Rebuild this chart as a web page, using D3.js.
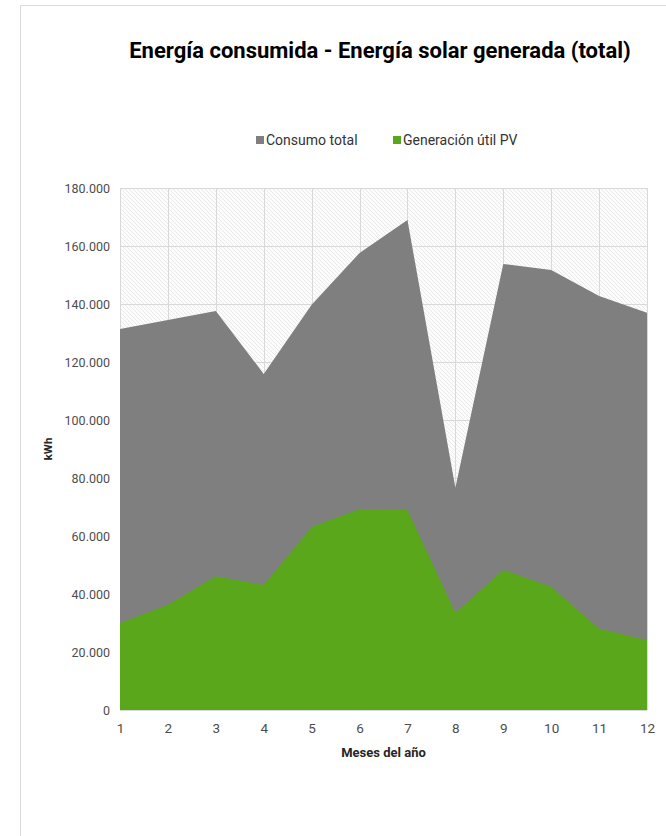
<!DOCTYPE html>
<html>
<head>
<meta charset="utf-8">
<script src="https://cdn.jsdelivr.net/npm/d3@7"></script>
<style>
  html, body { margin: 0; padding: 0; background: #fff; }
  svg { display: block; font-family: Roboto, "Noto Sans", sans-serif; }
</style>
</head>
<body>
<svg id="chart" width="666" height="836"></svg>
<script>
// Monthly energy figures (kWh)
const months = [1, 2, 3, 4, 5, 6, 7, 8, 9, 10, 11, 12];
const consumoTotal = [131400, 134500, 137600, 115900, 139700, 157600, 169000, 76600, 153800, 151700, 142800, 137000];
const generacionPV = [30000, 36300, 46100, 43100, 63100, 69300, 69000, 33500, 48300, 42500, 28000, 24100];
const yTicks = [0, 20000, 40000, 60000, 80000, 100000, 120000, 140000, 160000, 180000];
const seriesNames = ["Consumo total", "Generación útil PV"];
const seriesColors = ["#7f7f7f", "#5aa71c"];

const svg = d3.select("#chart");
const W = 666, H = 836;

// outer frame
svg.append("path")
  .attr("d", `M20.5,${H} V5.5 H${W}`)
  .attr("fill", "none")
  .attr("stroke", "#d9d9d9")
  .attr("stroke-width", 1);

const margin = { left: 120, right: 19, top: 188, bottom: 126 };
const plotW = W - margin.left - margin.right;
const plotH = H - margin.top - margin.bottom;

const x = d3.scaleLinear().domain([1, 12]).range([margin.left, margin.left + plotW]);
const y = d3.scaleLinear().domain([0, 180000]).range([margin.top + plotH, margin.top]);

const locale = d3.formatLocale({ decimal: ",", thousands: ".", grouping: [3], currency: ["", "€"] });
const fmt = locale.format(",d");

// diagonal hatch fill behind the plot
const defs = svg.append("defs");
const pat = defs.append("pattern")
  .attr("id", "hatch")
  .attr("patternUnits", "userSpaceOnUse")
  .attr("width", 4).attr("height", 4);
pat.append("rect").attr("width", 4).attr("height", 4).attr("fill", "#fcfcfc");
pat.append("path")
  .attr("d", "M-1,-1 L5,5 M-1,3 L1,5 M3,-1 L5,1")
  .attr("stroke", "#e2e2e2")
  .attr("stroke-width", 0.7);

svg.append("rect")
  .attr("x", x(1)).attr("y", y(180000))
  .attr("width", x(12) - x(1)).attr("height", y(0) - y(180000))
  .attr("fill", "url(#hatch)");

// grid
const grid = svg.append("g").attr("stroke", "#d9d9d9").attr("stroke-width", 1);
grid.selectAll("line.h").data(yTicks).join("line")
  .attr("x1", x(1)).attr("x2", x(12))
  .attr("y1", d => Math.round(y(d)) + 0.5).attr("y2", d => Math.round(y(d)) + 0.5);
grid.selectAll("line.v").data(months).join("line")
  .attr("y1", y(0)).attr("y2", y(180000))
  .attr("x1", d => Math.round(x(d)) + 0.5).attr("x2", d => Math.round(x(d)) + 0.5);

// areas
const area = vals => d3.area()
  .x((d, i) => x(months[i]))
  .y0(y(0))
  .y1(d => y(d))(vals);

svg.append("path").attr("d", area(consumoTotal)).attr("fill", seriesColors[0]);
svg.append("path").attr("d", area(generacionPV)).attr("fill", seriesColors[1]);

// axes
const yAxis = svg.append("g")
  .attr("transform", `translate(${x(1) - 10},0)`)
  .call(d3.axisLeft(y).tickValues(yTicks).tickFormat(d => fmt(d)).tickSize(0).tickPadding(0));
yAxis.select(".domain").remove();
yAxis.selectAll("text").attr("font-size", 12.5).attr("fill", "#4d4d4d").attr("font-family", "Roboto, sans-serif");

const xAxis = svg.append("g")
  .attr("transform", `translate(0,${y(0)})`)
  .call(d3.axisBottom(x).tickValues(months).tickFormat(d3.format("d")).tickSize(0).tickPadding(13));
xAxis.select(".domain").remove();
xAxis.selectAll("text").attr("font-size", 13.5).attr("fill", "#4d4d4d").attr("font-family", "Roboto, sans-serif");

// titles
svg.append("text")
  .attr("x", 380).attr("y", 58)
  .attr("text-anchor", "middle")
  .attr("font-size", 22).attr("font-weight", 700).attr("fill", "#000")
  .text("Energía consumida - Energía solar generada (total)");

svg.append("text")
  .attr("x", (x(1) + x(12)) / 2).attr("y", 757)
  .attr("text-anchor", "middle")
  .attr("font-size", 13).attr("font-weight", 700).attr("fill", "#262626")
  .text("Meses del año");

svg.append("text")
  .attr("transform", `translate(52,${(y(0) + y(180000)) / 2}) rotate(-90)`)
  .attr("text-anchor", "middle")
  .attr("font-size", 11.5).attr("font-weight", 700).attr("fill", "#262626")
  .text("kWh");

// legend
const legendX = [256, 393];
const lg = svg.append("g");
seriesNames.forEach((name, i) => {
  lg.append("rect")
    .attr("x", legendX[i]).attr("y", 136)
    .attr("width", 8).attr("height", 8)
    .attr("fill", seriesColors[i]);
  lg.append("text")
    .attr("x", legendX[i] + 10).attr("y", 145)
    .attr("font-size", 14).attr("fill", "#333")
    .text(name);
});
</script>
</body>
</html>
